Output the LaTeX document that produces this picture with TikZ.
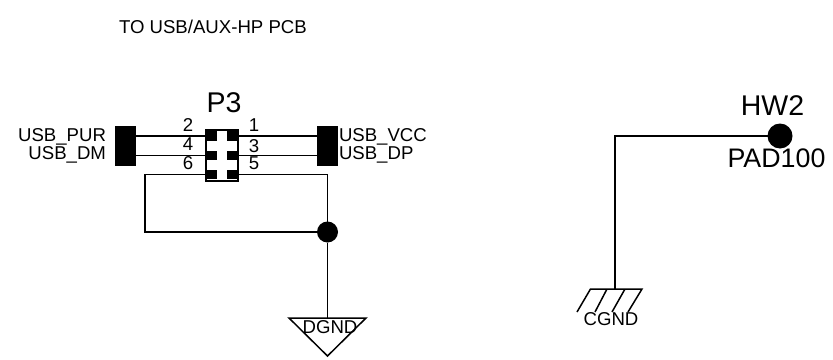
\documentclass[tikz,border=0pt]{standalone}
\usepackage{fontspec}
\setmainfont{Liberation Sans}
\usetikzlibrary{positioning}

\begin{document}
\begin{tikzpicture}[x = 1pt, y = -1pt, line width = 1.5pt, line join = miter,
  every node/.style = {inner sep = 0pt, outer sep = 0pt},
  netlabel/.style = {font = \fontsize{18.6}{18.6}\selectfont},
  pinnum/.style = {font = \fontsize{18.6}{18.6}\selectfont},
  reflabel/.style = {font = \fontsize{28.5}{28.5}\selectfont},
  header/.style = {rectangle, fill = black, minimum width = 21pt, minimum height = 40pt},
  pinpad/.style = {rectangle, fill = black, minimum width = 10pt, minimum height = 9.5pt},
  dot/.style = {circle, fill = black}]
  \useasboundingbox (0,0) rectangle (833,359);

  \node (title) [netlabel, anchor = base west] at (119,33) {TO USB/AUX-HP PCB};

  % connector P3
  \node (P3box) [rectangle, draw = black, line width = 1.8pt, fill = white, minimum width = 31.5pt, minimum height = 50.5pt] at (222,155.5) {};
  \node (P3) [reflabel] at (224,103) {P3};
  \node (pin2) [pinpad] at (212,136) {};
  \node (pin4) [pinpad, below = 9.8pt of pin2] {};
  \node (pin6) [pinpad, below = 9.8pt of pin4] {};
  \node (pin1) [pinpad, right = 10pt of pin2] {};
  \node (pin3) [pinpad, right = 10pt of pin4] {};
  \node (pin5) [pinpad, right = 10pt of pin6] {};
  \node (padL) [header] at (125.5,145.5) {};
  \node (padR) [header] at (327.5,145.5) {};

  \node (num2) [pinnum] at (188,125) {2};
  \node (num4) [pinnum] at (188,144) {4};
  \node (num6) [pinnum] at (188,163) {6};
  \node (num1) [pinnum] at (254,125) {1};
  \node (num3) [pinnum] at (254,146) {3};
  \node (num5) [pinnum] at (254,163) {5};

  \node (USBPUR) [netlabel, anchor = base east] at (106,141) {USB\_PUR};
  \node (USBDM)  [netlabel, anchor = base east] at (106,159.5) {USB\_DM};
  \node (USBVCC) [netlabel, anchor = base west] at (339,141) {USB\_VCC};
  \node (USBDP)  [netlabel, anchor = base west] at (339,159.5) {USB\_DP};

  % digital ground
  \node (junction) [dot, minimum size = 21pt] at (327.5,232) {};
  \coordinate (loopL) at (145,232);
  \coordinate (DGNDtop) at (327.5,318);
  \coordinate (DGNDleft) at (289,318);
  \coordinate (DGNDright) at (366,318);
  \coordinate (DGNDtip) at (327.5,356);
  \node (DGND) [netlabel] at (330,327) {DGND};

  % mounting pad
  \node (HWpad) [dot, minimum size = 25pt] at (780,136) {};
  \node (HW2) [reflabel] at (772.5,106) {HW2};
  \node (PAD100) [font = \fontsize{26.8}{26.8}\selectfont] at (776.5,158) {PAD100};
  \coordinate (corner) at (615,136);
  \coordinate (CGNDtop) at (615,289);
  \node (CGND) [netlabel] at (611,319.5) {CGND};

  \draw [black]
    (padL.east |- pin2.west) -- (pin2.west)
    (padL.east |- pin4.west) -- (pin4.west)
    (pin1.east) -- (padR.west |- pin1.east)
    (pin3.east) -- (padR.west |- pin3.east)
    (pin6.west) -| (loopL) -- (junction)
    (pin5.east) -| (junction)
    (junction) -- (DGNDtop)
    (HWpad) -- (corner) -- (CGNDtop);
  \draw [black] (DGNDleft) -- (DGNDright) -- (DGNDtip) -- cycle;
  \draw [black]
    (577,312) -- (590.5,289) -- (642,289) -- (628,312)
    (595,312) -- (607,289)
    (612,312) -- (625,289);
\end{tikzpicture}
\end{document}
